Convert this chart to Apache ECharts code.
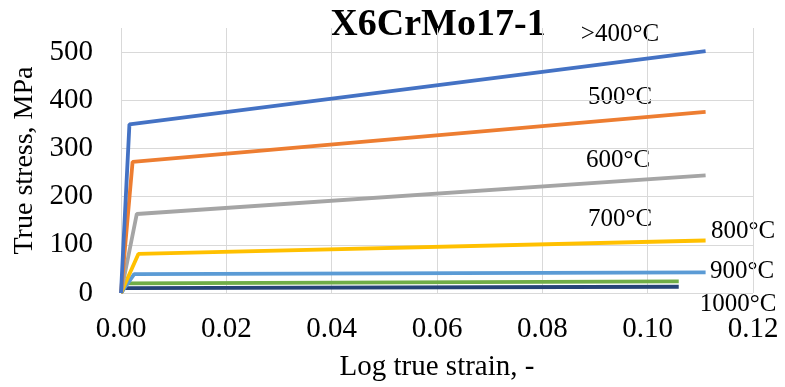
<!DOCTYPE html>
<html>
<head>
<meta charset="utf-8">
<script src="https://cdn.jsdelivr.net/npm/echarts@6/dist/echarts.min.js"></script>
<style>
  html, body { margin: 0; padding: 0; background: #fff; }
  #chart { width: 785px; height: 387px; }
</style>
</head>
<body>
<div id="chart"></div>
<script>
// temperature curves: [strain, stress]
const temps = [">400°C", "500°C", "600°C", "700°C", "800°C", "900°C", "1000°C"];
const colors = ["#4472C4", "#ED7D31", "#A5A5A5", "#FFC000", "#5B9BD5", "#70AD47", "#264478"];

const c400 = [[0, 0], [0.0016, 350], [0.111, 502]];
const c500 = [[0, 0], [0.0022, 272], [0.111, 376]];
const c600 = [[0, 0], [0.0030, 164], [0.111, 244]];
const c700 = [[0, 0], [0.0033, 81], [0.111, 109]];
const c800 = [[0, 0], [0.0025, 39], [0.111, 43]];
const c900 = [[0, 0], [0.0008, 20], [0.1059, 24]];
const c1000 = [[0, 0], [0.0006, 10], [0.1059, 13]];
const curves = [c400, c500, c600, c700, c800, c900, c1000];

const xTicks = [0, 0.02, 0.04, 0.06, 0.08, 0.10, 0.12];
const yTicks = [0, 100, 200, 300, 400, 500];

// where the text annotations sit (pixels)
const labelPos = [[620, 34], [620, 97], [618, 160], [620, 219], [743, 231], [742, 271], [738, 304]];

const FONT = "'Liberation Serif', 'Times New Roman', serif";

const chart = echarts.init(document.getElementById("chart"));

const series = curves.map((d, i) => ({
    name: temps[i],
    type: "line",
    data: d,
    symbol: "none",
    silent: true,
    lineStyle: { color: colors[i], width: 3.8 },
    z: 10 - i
}));

const graphics = [{
    type: "text",
    x: 438,
    y: 25,
    style: {
        text: "X6CrMo17-1",
        font: "bold 38px " + FONT,
        fill: "#000",
        align: "center",
        verticalAlign: "middle"
    }
}];
temps.forEach((t, i) => {
    graphics.push({
        type: "text",
        x: labelPos[i][0],
        y: labelPos[i][1],
        style: {
            text: t,
            font: "25px " + FONT,
            fill: "#000",
            align: "center",
            verticalAlign: "middle"
        }
    });
});

chart.setOption({
    animation: false,
    backgroundColor: "#fff",
    grid: { left: 121, right: 32, top: 28, bottom: 92, containLabel: false },
    xAxis: {
        type: "value",
        min: xTicks[0],
        max: xTicks[xTicks.length - 1],
        interval: 0.02,
        name: "Log true strain, -",
        nameLocation: "middle",
        nameGap: 60,
        nameTextStyle: { fontFamily: FONT, fontSize: 29, color: "#000" },
        axisLine: { show: false },
        axisTick: { show: false },
        axisLabel: {
            fontFamily: FONT,
            fontSize: 29,
            color: "#000",
            margin: 22,
            formatter: v => v.toFixed(2)
        },
        splitLine: { show: true, lineStyle: { color: "#d9d9d9", width: 1 } }
    },
    yAxis: {
        type: "value",
        min: 0,
        max: 550,
        interval: 100,
        name: "True stress, MPa",
        nameLocation: "middle",
        nameGap: 80,
        nameTextStyle: { fontFamily: FONT, fontSize: 28, color: "#000" },
        axisLine: { show: false },
        axisTick: { show: false },
        axisLabel: {
            fontFamily: FONT,
            fontSize: 29,
            color: "#000",
            margin: 28,
            formatter: v => (yTicks.indexOf(v) >= 0 ? String(v) : "")
        },
        splitLine: { show: true, showMaxLine: false, lineStyle: { color: "#d9d9d9", width: 1 } }
    },
    series: series,
    graphic: graphics
});
</script>
</body>
</html>
